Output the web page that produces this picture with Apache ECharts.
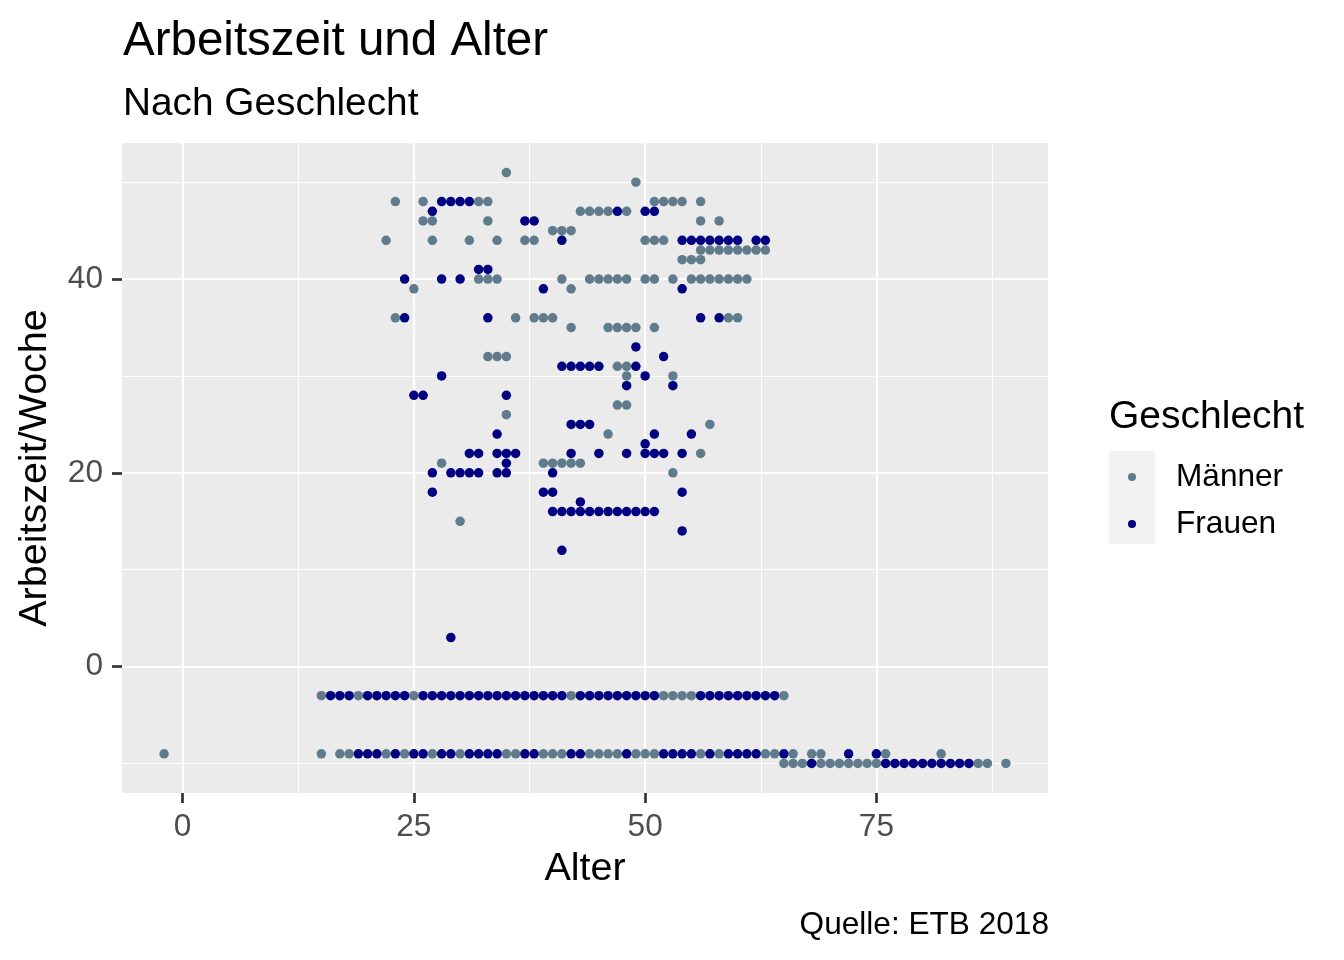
<!DOCTYPE html>
<html>
<head>
<meta charset="utf-8">
<title>Arbeitszeit und Alter</title>
<script src="https://cdn.jsdelivr.net/npm/echarts@6/dist/echarts.min.js"></script>
<style>
  html, body { margin: 0; padding: 0; background: #fff; }
  #chart { width: 1344px; height: 960px; }
</style>
</head>
<body>
<div id="chart"></div>
<script>
// Daten: [Alter, Arbeitszeit/Woche]
var maenner = [
  [35, 51], [49, 50],
  [23, 48], [26, 48], [32, 48], [33, 48], [51, 48], [52, 48], [53, 48], [54, 48], [56, 48],
  [43, 47], [44, 47], [45, 47], [46, 47], [48, 47],
  [26, 46], [27, 46], [33, 46], [56, 46], [58, 46],
  [40, 45], [41, 45], [42, 45],
  [22, 44], [27, 44], [31, 44], [34, 44], [37, 44], [38, 44], [50, 44], [51, 44], [52, 44],
  [56, 43], [57, 43], [58, 43], [59, 43], [60, 43], [61, 43], [62, 43], [63, 43],
  [54, 42], [55, 42], [56, 42],
  [32, 40], [33, 40], [34, 40], [41, 40], [44, 40], [45, 40], [46, 40], [47, 40], [48, 40],
  [50, 40], [51, 40], [53, 40], [55, 40], [56, 40], [57, 40], [58, 40], [59, 40], [60, 40], [61, 40],
  [25, 39], [42, 39],
  [23, 36], [36, 36], [38, 36], [39, 36], [40, 36], [59, 36], [60, 36],
  [42, 35], [46, 35], [47, 35], [48, 35], [49, 35], [51, 35],
  [33, 32], [34, 32], [35, 32],
  [47, 31], [48, 31], [48, 30], [53, 30], [47, 27], [48, 27],
  [35, 26], [57, 25], [46, 24], [56, 22],
  [28, 21], [39, 21], [40, 21], [41, 21], [42, 21], [43, 21],
  [53, 20], [30, 15],
  [15, -3], [19, -3], [25, -3], [42, -3], [52, -3], [53, -3], [54, -3], [55, -3], [65, -3],
  [-2, -9], [15, -9], [17, -9], [18, -9], [22, -9], [24, -9], [27, -9], [30, -9], [35, -9], [36, -9],
  [39, -9], [40, -9], [41, -9], [44, -9], [45, -9], [46, -9], [47, -9], [49, -9], [50, -9], [51, -9],
  [56, -9], [58, -9], [63, -9], [64, -9], [66, -9], [68, -9], [69, -9], [76, -9], [82, -9],
  [65, -10], [66, -10], [67, -10], [69, -10], [70, -10], [71, -10], [72, -10], [73, -10], [74, -10],
  [75, -10], [86, -10], [87, -10], [89, -10]
];

var frauen = [
  [28, 48], [29, 48], [30, 48], [31, 48],
  [27, 47], [47, 47], [50, 47], [51, 47],
  [37, 46], [38, 46],
  [41, 44], [54, 44], [55, 44], [56, 44], [57, 44], [58, 44], [59, 44], [60, 44], [62, 44], [63, 44],
  [32, 41], [33, 41],
  [24, 40], [28, 40], [30, 40],
  [39, 39], [54, 39],
  [24, 36], [33, 36], [56, 36], [58, 36],
  [49, 33], [52, 32],
  [41, 31], [42, 31], [43, 31], [44, 31], [45, 31], [49, 31],
  [28, 30], [50, 30], [48, 29], [53, 29],
  [25, 28], [26, 28], [35, 28],
  [42, 25], [43, 25], [44, 25],
  [34, 24], [51, 24], [55, 24], [50, 23],
  [31, 22], [32, 22], [34, 22], [35, 22], [36, 22], [42, 22], [45, 22], [48, 22], [50, 22],
  [51, 22], [52, 22], [54, 22],
  [35, 21],
  [27, 20], [29, 20], [30, 20], [31, 20], [32, 20], [34, 20], [35, 20], [40, 20],
  [27, 18], [39, 18], [40, 18], [54, 18],
  [43, 17],
  [40, 16], [41, 16], [42, 16], [43, 16], [44, 16], [45, 16], [46, 16], [47, 16], [48, 16],
  [49, 16], [50, 16], [51, 16],
  [54, 14], [41, 12], [29, 3],
  [16, -3], [17, -3], [18, -3], [20, -3], [21, -3], [22, -3], [23, -3], [24, -3],
  [26, -3], [27, -3], [28, -3], [29, -3], [30, -3], [31, -3], [32, -3], [33, -3], [34, -3],
  [35, -3], [36, -3], [37, -3], [38, -3], [39, -3], [40, -3], [41, -3],
  [43, -3], [44, -3], [45, -3], [46, -3], [47, -3], [48, -3], [49, -3], [50, -3], [51, -3],
  [56, -3], [57, -3], [58, -3], [59, -3], [60, -3], [61, -3], [62, -3], [63, -3], [64, -3],
  [19, -9], [20, -9], [21, -9], [23, -9], [25, -9], [26, -9], [28, -9], [29, -9], [31, -9],
  [32, -9], [33, -9], [34, -9], [37, -9], [38, -9], [42, -9], [43, -9], [48, -9], [52, -9],
  [53, -9], [54, -9], [55, -9], [57, -9], [59, -9], [60, -9], [61, -9], [62, -9], [65, -9],
  [72, -9], [75, -9],
  [68, -10], [76, -10], [77, -10], [78, -10], [79, -10], [80, -10], [81, -10], [82, -10],
  [83, -10], [84, -10], [85, -10]
];

var xTicks = [0, 25, 50, 75];
var xMinor = [12.5, 37.5, 62.5, 87.5];
var yTicks = [0, 20, 40];
var yMinor = [-10, 10, 30, 50];

var font = '"Liberation Sans", Arial, sans-serif';
var myChart = echarts.init(document.getElementById('chart'));

// Gitterlinien wie bei ggplot (weiss auf grau)
var gridLines = []
xMinor.forEach(function (v) { gridLines.push({ xAxis: v, lineStyle: { width: 1.1 } }) })
yMinor.forEach(function (v) { gridLines.push({ yAxis: v, lineStyle: { width: 1.1 } }) })
xTicks.forEach(function (v) { gridLines.push({ xAxis: v, lineStyle: { width: 2.2 } }) })
yTicks.forEach(function (v) { gridLines.push({ yAxis: v, lineStyle: { width: 2.2 } }) })

var option = {
  animation: false,
  title: [
    { text: 'Arbeitszeit und Alter', left: 118, top: 13,
      textStyle: { fontFamily: font, fontSize: 47.5, fontWeight: 'normal', color: '#000' } },
    { text: 'Nach Geschlecht', left: 118, top: 80,
      textStyle: { fontFamily: font, fontSize: 38.8, fontWeight: 'normal', color: '#000' } },
    { text: 'Geschlecht', left: 1104, top: 393,
      textStyle: { fontFamily: font, fontSize: 39, fontWeight: 'normal', color: '#000' } },
    { text: 'Quelle: ETB 2018', right: 290, top: 904,
      textStyle: { fontFamily: font, fontSize: 31.6, fontWeight: 'normal', color: '#000' } }
  ],
  graphic: [
    { type: 'rect', left: 1109, top: 451, z: 0,
      shape: { width: 46, height: 93 }, style: { fill: '#F2F2F2' } }
  ],
  legend: {
    orient: 'vertical',
    left: 1128,
    top: 461,
    padding: 0,
    itemWidth: 44,
    itemHeight: 8,
    itemGap: 15,
    icon: 'circle',
    data: ['Männer', 'Frauen'],
    textStyle: { fontFamily: font, fontSize: 31.6, color: '#000', lineHeight: 32, padding: [0, 0, 0, 17] }
  },
  grid: {
    left: 122, right: 296, top: 143, bottom: 167,
    show: true, backgroundColor: '#EBEBEB', borderWidth: 0
  },
  xAxis: {
    type: 'value',
    min: -6.55,
    max: 93.55,
    name: 'Alter',
    nameLocation: 'middle',
    nameGap: 56,
    nameTextStyle: { fontFamily: font, fontSize: 39.5, color: '#000' },
    axisLine: { show: false, onZero: false },
    axisTick: { show: true, length: 10, customValues: xTicks, lineStyle: { color: '#333333', width: 2.7 } },
    axisLabel: { customValues: xTicks, margin: 18, fontFamily: font, fontSize: 31.6, color: '#4D4D4D' },
    splitLine: { show: false }
  },
  yAxis: {
    type: 'value',
    min: -13.05,
    max: 54.05,
    name: 'Arbeitszeit/Woche',
    nameLocation: 'middle',
    nameGap: 67,
    nameRotate: 90,
    nameTextStyle: { fontFamily: font, fontSize: 39.5, color: '#000' },
    axisLine: { show: false, onZero: false },
    axisTick: { show: true, length: 10, customValues: yTicks, lineStyle: { color: '#333333', width: 2.7 } },
    axisLabel: { customValues: yTicks, margin: 19, fontFamily: font, fontSize: 31.6, color: '#4D4D4D' },
    splitLine: { show: false }
  },
  series: [
    {
      name: 'Männer',
      type: 'scatter',
      data: maenner,
      symbolSize: 9.5,
      z: 3,
      itemStyle: { color: '#607B8B', opacity: 1 },
      markLine: {
        silent: true,
        symbol: 'none',
        z: 1,
        label: { show: false },
        emphasis: { disabled: true },
        lineStyle: { color: '#FFFFFF', type: 'solid' },
        data: gridLines
      }
    },
    {
      name: 'Frauen',
      type: 'scatter',
      data: frauen,
      symbolSize: 9.5,
      z: 3,
      itemStyle: { color: '#000080', opacity: 1 }
    }
  ]
};
myChart.setOption(option);
window.addEventListener('resize', function () {
  myChart.resize()
})
</script>
</body>
</html>
